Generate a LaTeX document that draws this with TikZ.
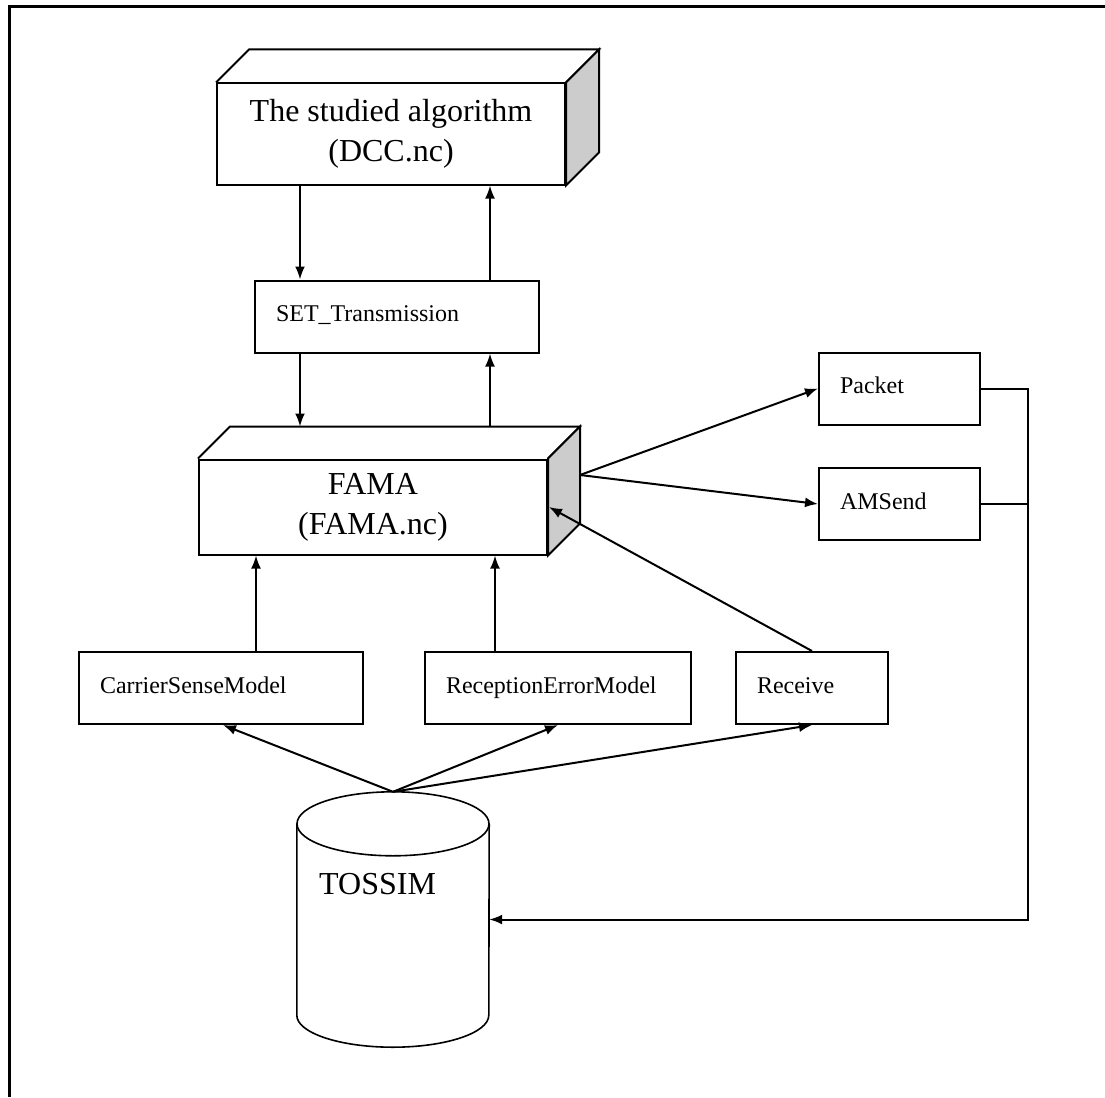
\documentclass[tikz,border=0pt]{standalone}
\usepackage{fontspec}
\setmainfont{Liberation Serif}
\usetikzlibrary{arrows.meta,calc}
\newcommand{\bigf}{\fontsize{32}{40}\selectfont}
\newcommand{\smallf}{\fontsize{24}{29}\selectfont}
\newcommand{\boxstrut}{\rule[-7pt]{0pt}{24pt}}
\begin{document}
\begin{tikzpicture}[x=1pt,y=-1pt,
  ln/.style={line width=2pt},
  arr/.style={line width=2pt,-{Latex[length=13pt,width=10pt]}},
  cube/.style={draw,line width=2pt,align=center,font=\bigf,inner sep=0pt},
  sidefill/.style={draw,line width=2pt,fill=gray!40,line join=miter},
  sbox/.style={draw,line width=2pt,font=\smallf,align=left,inner xsep=21pt,
    inner ysep=0pt,minimum height=72pt,text width=#1,
    execute at begin node=\boxstrut},
  cyl/.style={line width=1.6pt},
  frame/.style={line width=3pt},
]
\useasboundingbox (0,0) rectangle (1105,1097);
\draw[frame] (9,1097) -- (9,7) -- (1105,7);

% cuboid: algorithm
\node[cube,minimum width=348pt,minimum height=101pt] (algo) at (391,134)
  {The studied algorithm\\(DCC.nc)};
\draw[ln] (algo.north west) -- ++(33,-33) -- ($(algo.north east)+(33,-33)$) -- (algo.north east);
\draw[sidefill] (algo.north east) -- ++(33,-33) -- ($(algo.south east)+(33,-33)$) -- (algo.south east) -- cycle;

% cuboid: FAMA
\node[cube,minimum width=348pt,minimum height=95pt] (fama) at (373,507)
  {FAMA\\(FAMA.nc)};
\draw[ln] (fama.north west) -- ++(32,-32) -- ($(fama.north east)+(32,-32)$) -- (fama.north east);
\draw[sidefill] (fama.north east) -- ++(32,-32) -- ($(fama.south east)+(32,-32)$) -- (fama.south east) -- cycle;
\coordinate (famatop) at ($(fama.north)+(0,-32)$);
\coordinate (famaR) at ($(fama.east)+(32,-32)$);

% simple boxes
\node[sbox=242pt] (set) at (397,316.5) {SET\_Transmission};
\node[sbox=119pt] (packet) at (899.5,388.5) {Packet};
\node[sbox=119pt] (amsend) at (899.5,504) {AMSend};
\node[sbox=242pt] (csm) at (221,688) {CarrierSenseModel};
\node[sbox=224pt] (rem) at (558,688) {ReceptionErrorModel};
\node[sbox=110pt] (recv) at (812,688) {Receive};

% TOSSIM cylinder (node gives the outline box, drawn by hand)
\node[minimum width=192pt,minimum height=255pt,inner sep=0pt] (tossim) at (393,919.5) {};
\draw[cyl] ($(tossim.north)+(0,32)$) ellipse[x radius=96,y radius=32];
\draw[cyl] ($(tossim.north west)+(0,32)$) -- ($(tossim.south west)+(0,-32)$)
  arc[start angle=180,end angle=0,x radius=96,y radius=32]
  -- ($(tossim.north east)+(0,32)$);
\node[font=\bigf,anchor=base west,inner sep=0pt] (tlab) at (319,894) {TOSSIM};

% vertical connectors between algorithm, SET and FAMA
\path (algo.south) ++(-91,0) coordinate (a1);
\path (algo.south) ++(99,0) coordinate (a2);
\draw[arr] (a1) -- (a1 |- set.north);
\draw[arr] (a2 |- set.north) -- (a2);
\draw[arr] (a1 |- set.south) -- (a1 |- famatop);
\draw[arr] (a2 |- famatop) -- (a2 |- set.south);

% lower boxes to FAMA
\path (csm.north) ++(35,0) coordinate (c1);
\path (rem.north) ++(-63,0) coordinate (c2);
\draw[arr] (c1) -- (c1 |- fama.south);
\draw[arr] (c2) -- (c2 |- fama.south);
\draw[arr] (recv.north) -- ($(fama.east)+(1,0)$);

% FAMA to Packet / AMSend
\draw[arr] (famaR) -- (packet.west);
\draw[arr] (famaR) -- (amsend.west);

% TOSSIM to lower boxes
\draw[arr] (tossim.north) -- ($(csm.south)+(2,0)$);
\draw[arr] (tossim.north) -- (rem.south);
\draw[arr] (tossim.north) -- (recv.south);

% bus back to TOSSIM
\path (tossim.east) ++(539,0) coordinate (bus);
\draw[arr] (packet.east) -| (bus) -- (tossim.east);
\draw[ln] (amsend.east) -- (amsend.east -| bus);
\end{tikzpicture}
\end{document}
